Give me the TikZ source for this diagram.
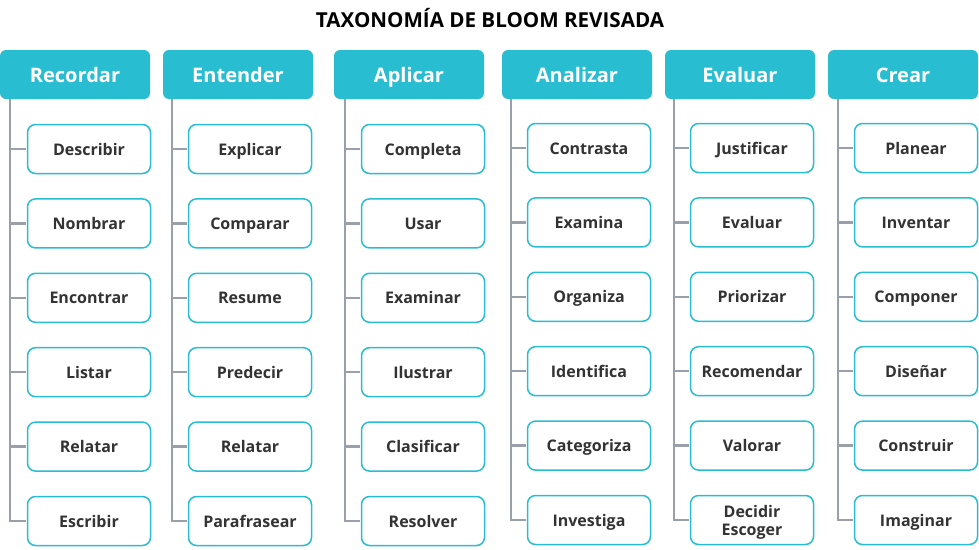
\documentclass[tikz,border=0pt]{standalone}
\usepackage{fontspec}
\setmainfont{Open Sans}
\usepackage{xcolor}
\usetikzlibrary{positioning}
\definecolor{bloomteal}{HTML}{29BDD1}
\definecolor{spinegray}{HTML}{9AA0AA}
\definecolor{verbtext}{HTML}{333333}

\begin{document}
\begin{tikzpicture}[
  x=1pt, y=-1pt,
  head/.style={rectangle, rounded corners=6pt, fill=bloomteal, text=white,
    font=\bfseries\fontsize{20}{24}\selectfont, text height=17pt, text depth=1pt,
    minimum width=150pt, minimum height=49pt, inner sep=0pt},
  verb/.style={rectangle, rounded corners=8pt, draw=bloomteal, line width=1.5pt,
    fill=white, text=verbtext, font=\bfseries\fontsize{16}{18}\selectfont,
    text height=14pt, text depth=2pt,
    minimum width=123pt, minimum height=49pt, inner sep=0pt, align=center},
  branch/.style={draw=spinegray, line width=2.5pt, shorten >=0.75pt},
]
\useasboundingbox (0,0) rectangle (979,549);
% ---- title
\node[font=\bfseries\fontsize{20.6}{24}\selectfont, text=black] (title) at (490,18)
  {TAXONOMÍA DE BLOOM REVISADA};
% ---- column headers
\node[head] (recordar) at (75,74.5)  {Recordar};
\node[head] (entender) at (238,74.5) {Entender};
\node[head] (aplicar)  at (409,74.5) {Aplicar};
\node[head] (analizar) at (577,74.5) {Analizar};
\node[head] (evaluar)  at (740,74.5) {Evaluar};
\node[head] (crear)    at (903,74.5) {Crear};
% ---- spine tops, just under each header
\coordinate (rectop) at (10,99);
\coordinate (enttop) at (172,99);
\coordinate (apltop) at (345,99);
\coordinate (anatop) at (511,99);
\coordinate (evatop) at (674,99);
\coordinate (cretop) at (838,99);
% ---- verbs, one column at a time
\foreach \i/\w in {1/Describir,2/Nombrar,3/Encontrar,4/Listar,5/Relatar,6/Escribir}
  \node[verb] (rec\i) at (89,{149+74.4*(\i-1)}) {\w};
\foreach \i/\w in {1/Explicar,2/Comparar,3/Resume,4/Predecir,5/Relatar,6/Parafrasear}
  \node[verb] (ent\i) at (250,{149+74.4*(\i-1)}) {\w};
\foreach \i/\w in {1/Completa,2/Usar,3/Examinar,4/Ilustrar,5/Clasificar,6/Resolver}
  \node[verb] (apl\i) at (423,{149+74.4*(\i-1)}) {\w};
\foreach \i/\w in {1/Contrasta,2/Examina,3/Organiza,4/Identifica,5/Categoriza,6/Investiga}
  \node[verb] (ana\i) at (589,{148+74.4*(\i-1)}) {\w};
\foreach \i/\w in {1/Justificar,2/Evaluar,3/Priorizar,4/Recomendar,5/Valorar}
  \node[verb] (eva\i) at (752,{148+74.4*(\i-1)}) {\w};
\node[verb, text height=32pt] (eva6) at (752,520) {Decidir\\Escoger};
\foreach \i/\w in {1/Planear,2/Inventar,3/Componer,4/Diseñar,5/Construir,6/Imaginar}
  \node[verb] (cre\i) at (916,{148+74.4*(\i-1)}) {\w};
% ---- spines and branches (grey)
\foreach \col in {rec,ent,apl,ana,eva,cre}
  \foreach \i in {1,...,6}
    \draw[branch] (\col top) |- (\col\i.west);
\end{tikzpicture}
\end{document}
